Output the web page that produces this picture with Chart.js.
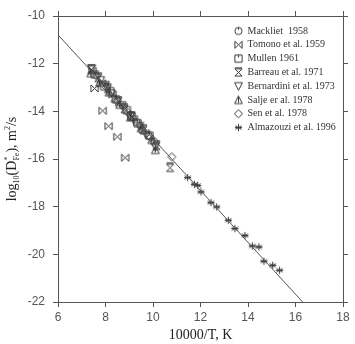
<!DOCTYPE html>
<html><head><meta charset="utf-8">
<script src="https://cdn.jsdelivr.net/npm/chart.js@4.4.1/dist/chart.umd.min.js"></script>
<style>html,body{margin:0;padding:0;background:#fff;}#wrap{width:355px;height:344px;}</style>
</head><body><div id="wrap"><canvas id="c" width="355" height="344"></canvas></div>
<script>
// ---- data ----
const seriesNames = ["Mackliet  1958","Tomono et al. 1959","Mullen 1961","Barreau et al. 1971","Bernardini et al. 1973","Salje er al. 1978","Sen et al. 1978","Almazouzi et al. 1996"];
const mackliet = [[9.30,-14.45],[9.55,-14.80],[9.80,-15.00],[10.05,-15.28],[9.05,-14.15]];
const tomono = [[7.54,-13.04],[7.88,-13.98],[8.13,-14.62],[8.50,-15.07],[8.83,-15.95],[7.45,-12.30],[7.85,-12.82],[8.30,-13.30]];
const mullen = [[7.55,-12.45],[7.95,-12.95],[8.45,-13.50],[8.90,-13.95],[9.35,-14.50],[9.85,-15.02],[8.20,-13.15],[9.10,-14.20]];
const barreau = [[7.40,-12.25],[7.70,-12.60],[8.10,-13.05],[8.55,-13.60],[9.10,-14.22],[9.60,-14.78],[10.15,-15.45],[10.72,-16.37],[8.80,-13.90]];
const bernardini = [[7.42,-12.20],[7.80,-12.70],[8.25,-13.25],[8.70,-13.75],[9.20,-14.35],[9.70,-14.95],[10.10,-15.50],[8.00,-12.90],[9.45,-14.62]];
const salje = [[7.38,-12.40],[7.75,-12.80],[8.15,-13.20],[8.60,-13.72],[9.05,-14.25],[9.50,-14.70],[9.95,-15.20],[10.10,-15.62],[8.40,-13.45]];
const sen = [[7.60,-12.50],[8.05,-13.00],[8.50,-13.55],[8.95,-14.05],[9.45,-14.60],[9.90,-15.10],[10.79,-15.91],[8.75,-13.80]];
const almazouzi = [[11.46,-16.78],[11.74,-17.06],[11.88,-17.11],[12.02,-17.38],[12.44,-17.83],[12.68,-18.01],[13.17,-18.57],[13.45,-18.92],[13.87,-19.21],[14.18,-19.65],[14.46,-19.69],[14.67,-20.29],[15.04,-20.46],[15.33,-20.67]];
const fitLine = [[6,-10.79],[16.30,-22]];
const xTicks = [6,8,10,12,14,16,18];
const yTicks = [-10,-12,-14,-16,-18,-20,-22];

// ---- marker images ----
const INK = '#3a3a3a';
function marker(kind){
  const s = 11, c = document.createElement('canvas');
  c.width = s; c.height = s;
  const g = c.getContext('2d');
  g.strokeStyle = INK; g.lineWidth = 1; g.fillStyle = INK;
  const m = s/2, r = 3.6, l = m-r, t = m-r, R = m+r, B = m+r;
  g.beginPath();
  switch(kind){
    case 'circ': g.arc(m,m,r,0,Math.PI*2); g.moveTo(m,t); g.lineTo(m,t+2.5); break;
    case 'bow': g.moveTo(l,t); g.lineTo(R,B); g.lineTo(R,t); g.lineTo(l,B); g.closePath(); break;
    case 'sq': g.rect(l,t,2*r,2*r); g.moveTo(m,t); g.lineTo(m,t+2.5); break;
    case 'hour': g.moveTo(l,t); g.lineTo(R,t); g.lineTo(l,B); g.lineTo(R,B); g.closePath(); g.moveTo(l,t-1); g.lineTo(R,t-1); break;
    case 'tdown': g.moveTo(l-0.3,t); g.lineTo(R+0.3,t); g.lineTo(m,B+0.5); g.closePath(); break;
    case 'tup': g.moveTo(l-0.3,B); g.lineTo(R+0.3,B); g.lineTo(m,t-0.5); g.closePath(); g.moveTo(m,t+1); g.lineTo(m,B-1); break;
    case 'dia': g.moveTo(m,t-0.5); g.lineTo(R+0.5,m); g.lineTo(m,B+0.5); g.lineTo(l-0.5,m); g.closePath(); break;
    case 'star':
      for(let k=0;k<3;k++){const a=Math.PI/2+k*Math.PI/3; g.moveTo(m+r*Math.cos(a),m+r*Math.sin(a)); g.lineTo(m-r*Math.cos(a),m-r*Math.sin(a));}
      g.moveTo(l,m); g.lineTo(R,m); break;
  }
  g.stroke();
  return c;
}
const kinds = ['circ','bow','sq','hour','tdown','tup','dia','star'];
const imgs = kinds.map(marker);
const allData = [mackliet,tomono,mullen,barreau,bernardini,salje,sen,almazouzi];

const datasets = allData.map((arr,i)=>({
  label: seriesNames[i], type:'scatter',
  data: arr.map(p=>({x:p[0],y:p[1]})),
  pointStyle: imgs[i], pointRadius: 4, showLine:false
}));
datasets.unshift({label:'fit', type:'line', data: fitLine.map(p=>({x:p[0],y:p[1]})),
  borderColor:'#555', borderWidth:1, pointRadius:0, fill:false, tension:0});

const TICKC = '#555';
const tickFont = {family:'"Liberation Sans", Arial, sans-serif', size:12};

const legendPlugin = {
  id:'insideLegend',
  afterDraw(chart){
    const ctx = chart.ctx;
    ctx.save();
    ctx.font = '10px "Liberation Serif", "Times New Roman", serif';
    ctx.fillStyle = '#333'; ctx.textBaseline='middle'; ctx.textAlign='left';
    const x0 = 238.5, tx = 247.5, y0 = 31, dy = 13.8;
    seriesNames.forEach((n,i)=>{
      const y = y0 + i*dy;
      ctx.drawImage(imgs[i], x0-5.5, y-5.5);
      ctx.fillText(n, tx, y);
    });
    // y axis title with sub/superscripts
    ctx.translate(16, 157);
    ctx.rotate(-Math.PI/2);
    const big = '14px "Liberation Serif", "Times New Roman", serif';
    const small = '8px "Liberation Serif", "Times New Roman", serif';
    const parts = [['log',big,0],['10',small,3],['(D',big,0],['*',small,-6],['Fe',small,3],['), m',big,0],['2',small,-6],['/s',big,0]];
    let w = 0;
    parts.forEach(p=>{ctx.font=p[1]; w += ctx.measureText(p[0]).width;});
    let x = -w/2;
    ctx.textBaseline='alphabetic'; ctx.fillStyle='#222';
    let starX = 0;
    parts.forEach((p,i)=>{
      ctx.font=p[1];
      if(p[0]==='Fe'){ x = starX; }
      ctx.fillText(p[0], x, p[2]);
      if(p[0]==='*'){ starX = x; }
      x += ctx.measureText(p[0]).width;
    });
    ctx.restore();
  }
};

new Chart(document.getElementById('c'), {
  data:{datasets},
  options:{
    responsive:false, animation:false, devicePixelRatio:1,
    layout:{padding:0},
    plugins:{legend:{display:false}, tooltip:{enabled:false}},
    scales:{
      x:{type:'linear', position:'bottom', min:6, max:18,
        afterBuildTicks:s=>{s.ticks = xTicks.map(v=>({value:v}));},
        afterFit:s=>{s.height=42;},
        ticks:{color:TICKC, font:tickFont, padding:3},
        grid:{drawOnChartArea:false, tickLength:5, color:TICKC},
        border:{color:TICKC, width:1},
        title:{display:true, text:'10000/T, K', color:'#222', font:{family:'"Liberation Serif", "Times New Roman", serif', size:14}, padding:{top:7,bottom:0}}
      },
      x2:{type:'linear', position:'top', min:6, max:18,
        afterBuildTicks:s=>{s.ticks = xTicks.map(v=>({value:v}));},
        afterFit:s=>{s.height=16;},
        ticks:{display:false},
        grid:{drawOnChartArea:false, tickLength:5, color:TICKC},
        border:{color:TICKC, width:1}
      },
      y:{type:'linear', position:'left', min:-22, max:-10,
        afterBuildTicks:s=>{s.ticks = yTicks.map(v=>({value:v}));},
        afterFit:s=>{s.width=58;},
        ticks:{color:TICKC, font:tickFont, padding:8},
        grid:{drawOnChartArea:false, tickLength:5, color:TICKC},
        border:{color:TICKC, width:1}
      },
      y2:{type:'linear', position:'right', min:-22, max:-10,
        afterBuildTicks:s=>{s.ticks = yTicks.map(v=>({value:v}));},
        afterFit:s=>{s.width=12;},
        ticks:{display:false},
        grid:{drawOnChartArea:false, tickLength:5, color:TICKC},
        border:{color:TICKC, width:1}
      }
    }
  },
  plugins:[legendPlugin]
});
</script></body></html>
